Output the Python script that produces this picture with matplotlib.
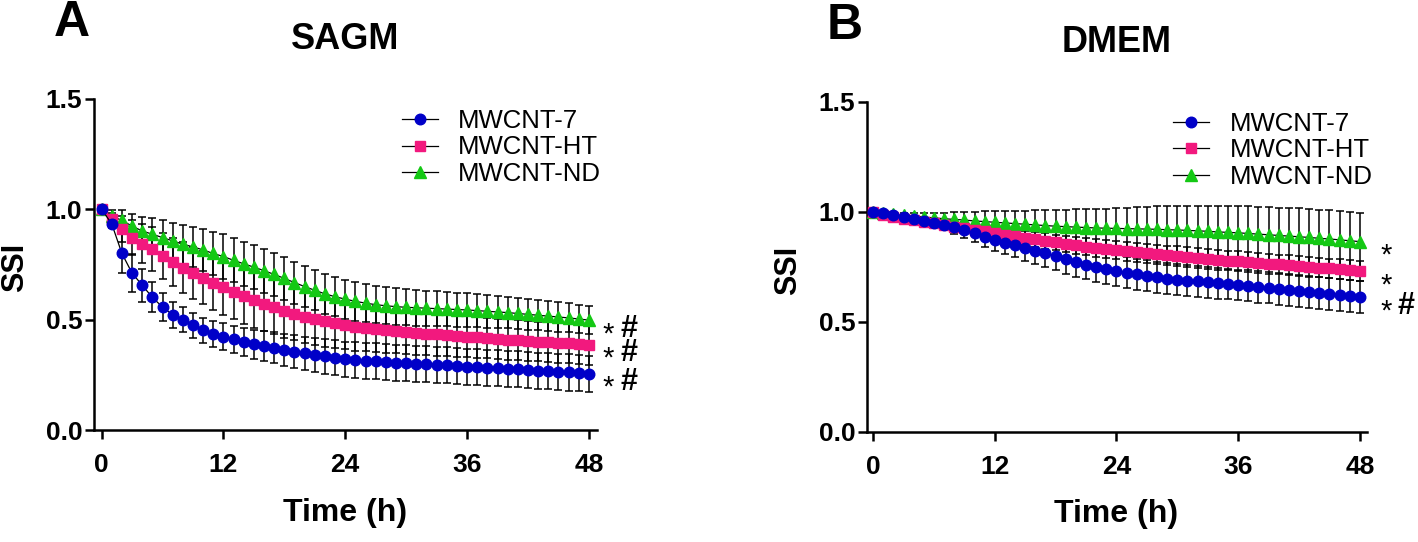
import numpy as np
import matplotlib
matplotlib.use("Agg")
import matplotlib.pyplot as plt
from matplotlib.lines import Line2D

plt.rcParams['font.family'] = ['Liberation Sans', 'DejaVu Sans']

hours = list(range(0, 49))
labels = ["MWCNT-7", "MWCNT-HT", "MWCNT-ND"]
colors = ["#0000C8", "#F2197E", "#14C814"]
markers = ["o", "s", "^"]

# SAGM
blue_sagm = [1.000, 0.934, 0.800, 0.711, 0.656, 0.601, 0.557, 0.522, 0.500, 0.475,
             0.452, 0.436, 0.423, 0.411, 0.399, 0.388, 0.381, 0.372, 0.362, 0.355,
             0.348, 0.341, 0.334, 0.328, 0.320, 0.317, 0.314, 0.311, 0.308, 0.305,
             0.302, 0.300, 0.298, 0.295, 0.293, 0.290, 0.287, 0.285, 0.282, 0.280,
             0.277, 0.275, 0.272, 0.269, 0.267, 0.264, 0.261, 0.258, 0.255]
pink_sagm = [1.000, 0.955, 0.910, 0.872, 0.845, 0.820, 0.790, 0.762, 0.736, 0.712,
             0.689, 0.667, 0.646, 0.626, 0.607, 0.589, 0.572, 0.556, 0.541, 0.527,
             0.514, 0.502, 0.492, 0.483, 0.475, 0.468, 0.462, 0.457, 0.452, 0.447,
             0.443, 0.440, 0.436, 0.433, 0.429, 0.426, 0.423, 0.420, 0.417, 0.413,
             0.410, 0.407, 0.404, 0.401, 0.398, 0.395, 0.392, 0.389, 0.386]
green_sagm = [1.000, 0.969, 0.950, 0.924, 0.902, 0.887, 0.872, 0.857, 0.842, 0.830,
              0.816, 0.800, 0.786, 0.769, 0.753, 0.738, 0.722, 0.705, 0.687, 0.668,
              0.650, 0.633, 0.617, 0.604, 0.593, 0.583, 0.575, 0.568, 0.563, 0.559,
              0.556, 0.554, 0.552, 0.550, 0.548, 0.546, 0.544, 0.541, 0.538, 0.535,
              0.532, 0.528, 0.524, 0.520, 0.516, 0.512, 0.508, 0.503, 0.498]
blue_sagm_sd = [0, 0.020, 0.090, 0.085, 0.075, 0.068, 0.062, 0.058, 0.056, 0.056,
                0.057, 0.058, 0.060, 0.062, 0.064, 0.066, 0.068, 0.070, 0.072, 0.074,
                0.075, 0.077, 0.078, 0.079, 0.080, 0.081, 0.081, 0.082, 0.082, 0.082,
                0.082, 0.082, 0.082, 0.082, 0.082, 0.082, 0.082, 0.082, 0.082, 0.082,
                0.082, 0.082, 0.082, 0.082, 0.082, 0.082, 0.082, 0.082, 0.082]
pink_sagm_sd = [0, 0.030, 0.060, 0.080, 0.090, 0.100, 0.105, 0.110, 0.115, 0.118,
                0.120, 0.122, 0.124, 0.125, 0.125, 0.125, 0.124, 0.123, 0.122, 0.120,
                0.118, 0.116, 0.114, 0.112, 0.110, 0.108, 0.106, 0.104, 0.102, 0.100,
                0.099, 0.098, 0.097, 0.096, 0.095, 0.094, 0.093, 0.093, 0.092, 0.092,
                0.091, 0.091, 0.090, 0.090, 0.090, 0.090, 0.090, 0.090, 0.090]
green_sagm_sd = [0, 0.030, 0.045, 0.055, 0.065, 0.072, 0.078, 0.083, 0.088, 0.092,
                 0.095, 0.098, 0.100, 0.100, 0.100, 0.100, 0.099, 0.098, 0.097, 0.095,
                 0.093, 0.091, 0.090, 0.089, 0.088, 0.087, 0.086, 0.085, 0.084, 0.083,
                 0.082, 0.081, 0.080, 0.079, 0.078, 0.077, 0.076, 0.075, 0.074, 0.073,
                 0.072, 0.071, 0.070, 0.069, 0.068, 0.067, 0.066, 0.065, 0.065]

# DMEM
blue_dmem = [1.000, 0.995, 0.986, 0.977, 0.968, 0.959, 0.950, 0.940, 0.929, 0.917,
             0.902, 0.886, 0.871, 0.859, 0.848, 0.836, 0.823, 0.811, 0.797, 0.783,
             0.770, 0.759, 0.748, 0.739, 0.731, 0.723, 0.716, 0.709, 0.702, 0.696,
             0.691, 0.687, 0.683, 0.679, 0.675, 0.671, 0.667, 0.663, 0.658, 0.654,
             0.649, 0.645, 0.640, 0.635, 0.630, 0.626, 0.621, 0.616, 0.611]
pink_dmem = [1.000, 0.985, 0.975, 0.968, 0.962, 0.955, 0.948, 0.940, 0.932, 0.925,
             0.918, 0.910, 0.902, 0.895, 0.888, 0.881, 0.874, 0.867, 0.860, 0.853,
             0.847, 0.841, 0.835, 0.830, 0.825, 0.820, 0.815, 0.810, 0.806, 0.802,
             0.798, 0.794, 0.790, 0.786, 0.782, 0.778, 0.775, 0.771, 0.767, 0.764,
             0.760, 0.757, 0.753, 0.749, 0.746, 0.742, 0.738, 0.735, 0.731]
green_dmem = [1.000, 0.995, 0.990, 0.985, 0.980, 0.976, 0.972, 0.968, 0.965, 0.962,
              0.958, 0.955, 0.952, 0.949, 0.946, 0.943, 0.940, 0.937, 0.934, 0.932,
              0.930, 0.928, 0.926, 0.925, 0.924, 0.923, 0.922, 0.921, 0.920, 0.918,
              0.917, 0.915, 0.913, 0.911, 0.908, 0.906, 0.904, 0.901, 0.898, 0.895,
              0.892, 0.889, 0.886, 0.883, 0.879, 0.876, 0.872, 0.868, 0.864]
blue_dmem_sd = [0, 0.005, 0.008, 0.010, 0.013, 0.016, 0.020, 0.025, 0.030, 0.035,
                0.040, 0.045, 0.050, 0.053, 0.056, 0.058, 0.060, 0.062, 0.064, 0.065,
                0.066, 0.067, 0.068, 0.069, 0.070, 0.070, 0.070, 0.070, 0.070, 0.070,
                0.070, 0.070, 0.070, 0.070, 0.070, 0.070, 0.070, 0.070, 0.071, 0.071,
                0.071, 0.072, 0.072, 0.072, 0.073, 0.073, 0.073, 0.073, 0.073]
pink_dmem_sd = [0, 0.004, 0.006, 0.008, 0.010, 0.012, 0.014, 0.016, 0.018, 0.020,
                0.022, 0.024, 0.026, 0.028, 0.030, 0.032, 0.034, 0.035, 0.036, 0.037,
                0.038, 0.039, 0.040, 0.041, 0.042, 0.042, 0.043, 0.043, 0.044, 0.044,
                0.044, 0.045, 0.045, 0.045, 0.045, 0.045, 0.045, 0.045, 0.045, 0.045,
                0.045, 0.045, 0.045, 0.045, 0.045, 0.045, 0.045, 0.045, 0.045]
green_dmem_sd = [0, 0.005, 0.008, 0.011, 0.014, 0.018, 0.022, 0.027, 0.032, 0.037,
                 0.042, 0.046, 0.050, 0.054, 0.058, 0.062, 0.066, 0.070, 0.073, 0.077,
                 0.080, 0.083, 0.086, 0.089, 0.092, 0.095, 0.098, 0.101, 0.104, 0.107,
                 0.110, 0.112, 0.114, 0.116, 0.118, 0.120, 0.122, 0.124, 0.125, 0.126,
                 0.127, 0.128, 0.129, 0.130, 0.130, 0.130, 0.130, 0.130, 0.130]

# significance marks at the end of each curve
marks_sagm = ["*#", "*#", "*#"]
marks_dmem = ["*#", "*", "*"]

fig = plt.figure(figsize=(14.18, 5.42), dpi=100)
ax1 = fig.add_axes([94 / 1418, 1 - 430 / 542, 503 / 1418, 331 / 542])
ax2 = fig.add_axes([867 / 1418, 1 - 431.7 / 542, 500 / 1418, 330 / 542])


def draw_panel(ax, means, sds, marks, title, letter, xlim, star_dx, hash_dx):
    x = np.array(hours)
    # errorbars first, then curves: green, pink, blue (blue on top)
    for m, s in zip(means, sds):
        ax.errorbar(x, m, yerr=s, fmt='none', ecolor='black', elinewidth=1.1,
                    capsize=3.2, capthick=1.1, zorder=2)
    for i in [2, 1, 0]:
        ms = {"o": 7.6, "s": 7.8, "^": 8}[markers[i]]
        ax.plot(x, means[i], color='black', lw=0.9, marker=markers[i], ms=ms,
                mfc=colors[i], mec=colors[i], zorder=3 + (2 - i))
    for i in range(3):
        last = means[i][-1]
        ax.annotate("*", xy=(48, last), xytext=(star_dx, -16), textcoords='offset points',
                    fontsize=21, ha='left', va='baseline', annotation_clip=False)
        if "#" in marks[i]:
            ax.annotate("#", xy=(48, last), xytext=(hash_dx, -12), textcoords='offset points',
                        fontsize=22, fontweight='bold', ha='left', va='baseline',
                        annotation_clip=False)

    ax.set_xlim(*xlim)
    ax.set_ylim(0, 1.5)
    ax.set_xticks([0, 12, 24, 36, 48])
    ax.set_yticks([0, 0.5, 1.0, 1.5])
    ax.set_yticklabels(["0.0", "0.5", "1.0", "1.5"])
    for sp in ['top', 'right']:
        ax.spines[sp].set_visible(False)
    for sp in ['left', 'bottom']:
        ax.spines[sp].set_linewidth(1.8)
    ax.spines['left'].set_bounds(0, 1.5)
    ax.tick_params(axis='both', direction='out', length=6.5, width=1.8,
                   labelsize=19)
    ax.tick_params(axis='y', pad=2)
    ax.tick_params(axis='x', pad=10)
    for lab in ax.get_xticklabels() + ax.get_yticklabels():
        lab.set_fontweight('bold')

    xc = (24 - xlim[0]) / (xlim[1] - xlim[0])
    ax.set_xlabel("Time (h)", fontsize=23, fontweight='bold')
    ax.xaxis.set_label_coords(xc, -0.205)
    ax.set_ylabel("SSI", fontsize=22, fontweight='bold')
    ax.yaxis.set_label_coords(-0.127, 0.49)

    ax.text(xc, 1.18, title, transform=ax.transAxes,
            fontsize=26, fontweight='bold', ha='center', va='center')
    ax.text(-0.045, 1.23, letter, transform=ax.transAxes,
            fontsize=36, fontweight='bold', ha='center', va='center')

    handles = [Line2D([0], [0], color='black', lw=0.9, marker=markers[i],
                      ms={"o": 7.6, "s": 7.8, "^": 8}[markers[i]],
                      mfc=colors[i], mec=colors[i]) for i in range(3)]
    ax.legend(handles, labels, loc='upper left', bbox_to_anchor=(0.612, 0.97),
              frameon=False, fontsize=18.5, handlelength=1.4, handletextpad=0.8,
              labelspacing=0.1, borderpad=0, borderaxespad=0)


draw_panel(ax1, [blue_sagm, pink_sagm, green_sagm],
           [blue_sagm_sd, pink_sagm_sd, green_sagm_sd],
           marks_sagm, "SAGM", "A", (-0.75, 48.8), 10, 23)
draw_panel(ax2, [blue_dmem, pink_dmem, green_dmem],
           [blue_dmem_sd, pink_dmem_sd, green_dmem_sd],
           marks_dmem, "DMEM", "B", (-0.6, 48.7), 15, 27)

fig.savefig("out.png", dpi=100)
